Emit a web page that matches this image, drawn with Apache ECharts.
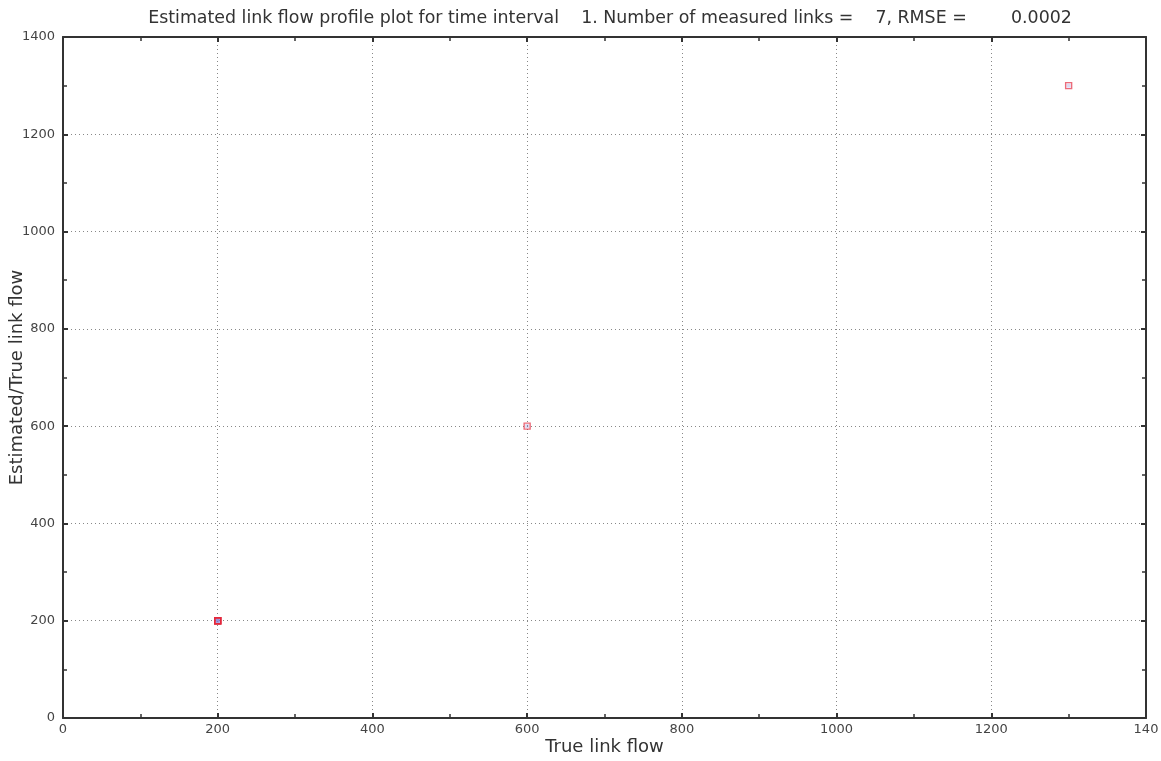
<!DOCTYPE html>
<html>
<head>
<meta charset="utf-8">
<script src="https://cdn.jsdelivr.net/npm/echarts@6/dist/echarts.min.js"></script>
<style>
html,body{margin:0;padding:0;background:#fff;}
#c{width:1161px;height:761px;}
</style>
</head>
<body>
<div id="c"></div>
<script>
var titleText = 'Estimated link flow profile plot for time interval    1. Number of measured links =    7, RMSE =        0.0002';
var xName = 'True link flow';
var yName = 'Estimated/True link flow';
var xTicks = [0, 200, 400, 600, 800, 1000, 1200, 1400];
var xTickLabels = ['0', '200', '400', '600', '800', '1000', '1200', '140'];
var yTickLabels = ['0', '200', '400', '600', '800', '1000', '1200', '1400'];
// measured links: true flow vs estimated flow
var trueFlow = [200, 200, 200, 200, 200, 600, 1300];
var estFlow = [200, 200, 200, 200, 200, 600, 1300];

var pts = trueFlow.map(function (v, i) { return [v, estFlow[i]]; });
var font = 'DejaVu Sans';
var chart = echarts.init(document.getElementById('c'), null, {renderer: 'canvas'});
function xl(v) { var i = xTicks.indexOf(v); return i >= 0 ? xTickLabels[i] : ''; }
function yl(v) { var i = xTicks.indexOf(v); return i >= 0 ? yTickLabels[i] : ''; }
var axisLine = {show: true, onZero: false, lineStyle: {color: '#333', width: 2}};
chart.setOption({
  animation: false,
  backgroundColor: '#fff',
  title: {
    text: titleText, left: 605, textAlign: 'center', top: 5,
    textStyle: {fontFamily: font, fontSize: 17.4, fontWeight: 'normal', color: '#333'}
  },
  grid: {left: 63, right: 15, top: 37, bottom: 43, containLabel: false, outerBoundsMode: 'none'},
  xAxis: [{
    type: 'value', min: 0, max: 1400, interval: 200,
    name: xName, nameLocation: 'middle', nameGap: 20, nameMoveOverlap: false,
    nameTextStyle: {fontFamily: font, fontSize: 18, color: '#333'},
    axisLine: axisLine,
    axisTick: {show: true, inside: true, length: 5, lineStyle: {color: '#333', width: 2}},
    minorTick: {show: true, splitNumber: 2, length: 4, lineStyle: {color: '#333', width: 1.5}},
    axisLabel: {fontFamily: font, fontSize: 13, color: '#444', margin: 5, formatter: xl, showMaxLabel: true},
    splitLine: {show: true, lineStyle: {color: '#888', type: [1, 3], width: 1}}
  }, {
    type: 'value', position: 'top', min: 0, max: 1400, interval: 200,
    axisLine: axisLine,
    axisTick: {show: true, inside: true, length: 5, lineStyle: {color: '#333', width: 2}},
    minorTick: {show: true, splitNumber: 2, length: 4, lineStyle: {color: '#333', width: 1.5}},
    axisLabel: {show: false}, splitLine: {show: false}
  }],
  yAxis: [{
    type: 'value', min: 0, max: 1400, interval: 200,
    name: yName, nameLocation: 'middle', nameGap: 37, nameMoveOverlap: false,
    nameTextStyle: {fontFamily: font, fontSize: 18, color: '#333'},
    axisLine: axisLine,
    axisTick: {show: true, inside: true, length: 5, lineStyle: {color: '#333', width: 2}},
    minorTick: {show: true, splitNumber: 2, length: 4, lineStyle: {color: '#333', width: 1.5}},
    axisLabel: {fontFamily: font, fontSize: 13, color: '#444', margin: 8, formatter: yl},
    splitLine: {show: true, lineStyle: {color: '#888', type: [1, 3], width: 1}}
  }, {
    type: 'value', position: 'right', min: 0, max: 1400, interval: 200,
    axisLine: axisLine,
    axisTick: {show: true, inside: true, length: 5, lineStyle: {color: '#333', width: 2}},
    minorTick: {show: true, splitNumber: 2, length: 4, lineStyle: {color: '#333', width: 1.5}},
    axisLabel: {show: false}, splitLine: {show: false}
  }],
  series: [{
    type: 'scatter', name: 'True', xAxisIndex: 0, yAxisIndex: 0,
    data: pts, symbol: 'rect', symbolSize: 4,
    itemStyle: {color: 'rgba(130,120,210,0.35)'}
  }, {
    type: 'scatter', name: 'Estimated', xAxisIndex: 0, yAxisIndex: 0,
    data: pts, symbol: 'rect', symbolSize: 6,
    itemStyle: {color: 'rgba(0,0,0,0)', borderColor: 'rgba(225,40,60,0.85)', borderWidth: 1.4}
  }]
});
</script>
</body>
</html>
